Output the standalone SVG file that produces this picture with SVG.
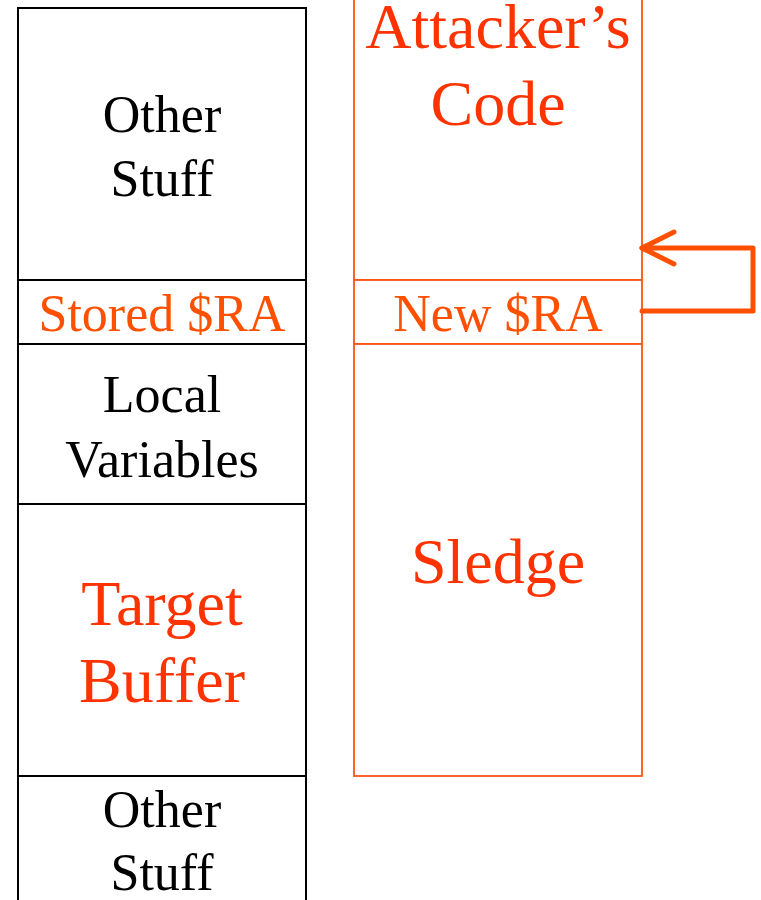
<svg xmlns="http://www.w3.org/2000/svg" width="761" height="900" viewBox="0 0 761 900">
  <style>
    .t { font-family: "Liberation Serif", "Times New Roman", serif; text-anchor: middle; }
    .sm { font-size: 52px; }
    .lg { font-size: 64px; }
    .blk { fill: #000000; }
    .org { fill: #FF5000; }
    .red { fill: #FF3300; }
    .cellK { fill: #ffffff; stroke: #000000; stroke-width: 2; }
    .cellO { fill: #ffffff; stroke: #FF5511; stroke-width: 1.8; }
  </style>
  <rect width="761" height="900" fill="#ffffff"/>

  <!-- Original stack frame -->
  <g id="stack-original">
    <g id="other-stuff-top">
      <rect class="cellK" x="18" y="8" width="288" height="272"/>
      <text class="t sm blk" x="162" y="132">Other</text>
      <text class="t sm blk" x="162" y="196">Stuff</text>
    </g>
    <g id="stored-ra">
      <rect class="cellK" x="18" y="280" width="288" height="64"/>
      <text class="t sm org" x="162" y="331">Stored $RA</text>
    </g>
    <g id="local-variables">
      <rect class="cellK" x="18" y="344" width="288" height="160"/>
      <text class="t sm blk" x="162" y="412">Local</text>
      <text class="t sm blk" x="162" y="477">Variables</text>
    </g>
    <g id="target-buffer">
      <rect class="cellK" x="18" y="504" width="288" height="272"/>
      <text class="t lg red" x="162" y="625">Target</text>
      <text class="t lg red" x="162" y="702">Buffer</text>
    </g>
    <g id="other-stuff-bottom">
      <rect class="cellK" x="18" y="776" width="288" height="140"/>
      <text class="t sm blk" x="162" y="827">Other</text>
      <text class="t sm blk" x="162" y="890">Stuff</text>
    </g>
  </g>

  <!-- Overwritten stack frame (top of the code region runs past the page edge) -->
  <g id="stack-attacked">
    <g id="attackers-code">
      <rect class="cellO" x="354" y="-20" width="288" height="300"/>
      <text class="t lg red" x="498" y="48">Attacker’s</text>
      <text class="t lg red" x="498" y="125">Code</text>
    </g>
    <g id="new-ra">
      <rect class="cellO" x="354" y="280" width="288" height="64"/>
      <text class="t sm org" x="498" y="331">New $RA</text>
    </g>
    <g id="sledge">
      <rect class="cellO" x="354" y="344" width="288" height="432"/>
      <text class="t lg red" x="498" y="583">Sledge</text>
    </g>
  </g>

  <!-- Return address now points back into the injected code -->
  <g id="connectors" fill="none" stroke="#FF5000" stroke-width="5" stroke-linecap="round" stroke-linejoin="round">
    <path d="M642 311 H753 V248 H642"/>
    <path d="M674 232 L642 248 L674 264"/>
  </g>
</svg>
